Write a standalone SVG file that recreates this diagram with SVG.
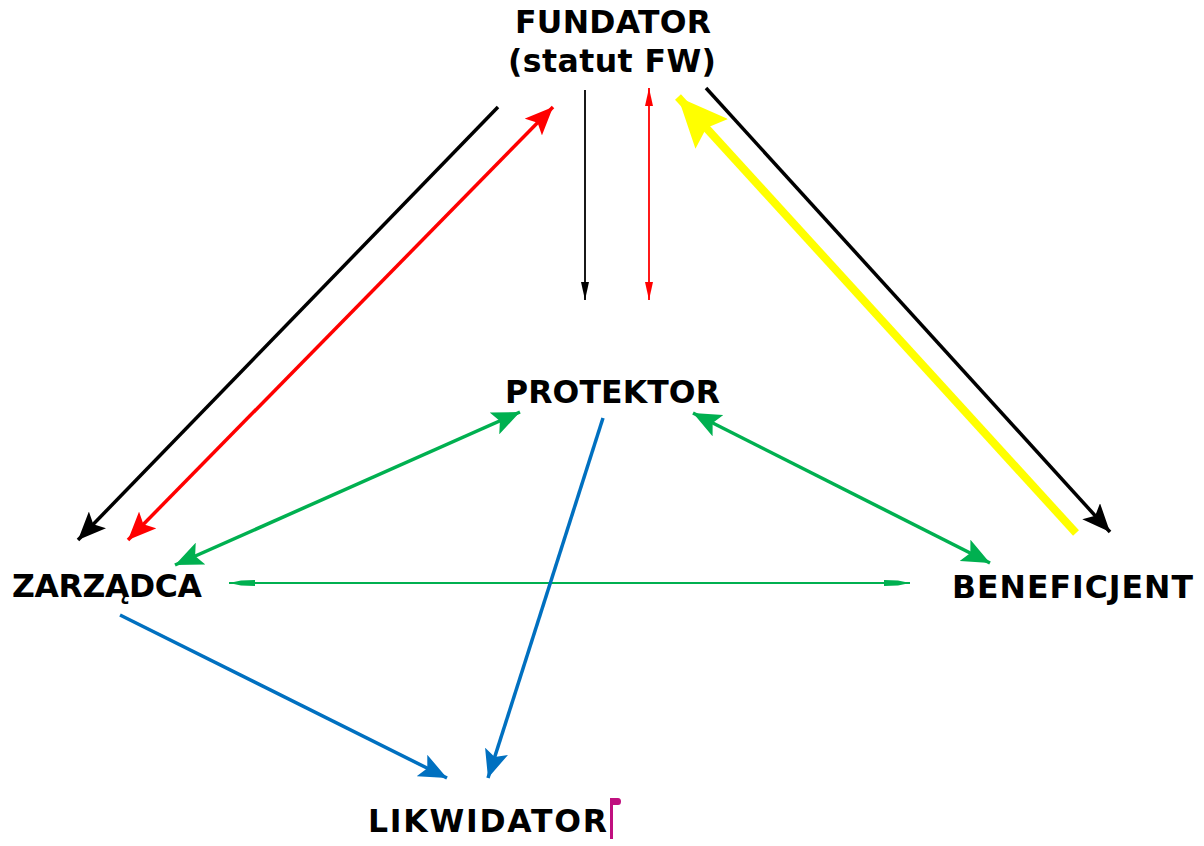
<svg xmlns="http://www.w3.org/2000/svg" width="1204" height="846" viewBox="0 0 1204 846">
<style>
.lbl{font-family:"DejaVu Sans","Verdana",sans-serif;font-weight:bold;font-size:31.5px;fill:#000}
.c{fill:none;stroke-linecap:butt}
</style>
<defs>
<marker id="hk" markerUnits="userSpaceOnUse" viewBox="0 0 28 24" refX="28" refY="12" markerWidth="28" markerHeight="24" orient="auto-start-reverse"><path d="M0,0 L28,12 L0,24 L6,12 Z" fill="#000"/></marker>
<marker id="hr" markerUnits="userSpaceOnUse" viewBox="0 0 28 24" refX="28" refY="12" markerWidth="28" markerHeight="24" orient="auto-start-reverse"><path d="M0,0 L28,12 L0,24 L6,12 Z" fill="#ff0000"/></marker>
<marker id="hg" markerUnits="userSpaceOnUse" viewBox="0 0 28 24" refX="28" refY="12" markerWidth="28" markerHeight="24" orient="auto-start-reverse"><path d="M0,0 L28,12 L0,24 L6,12 Z" fill="#00b050"/></marker>
<marker id="hb" markerUnits="userSpaceOnUse" viewBox="0 0 28 24" refX="28" refY="12" markerWidth="28" markerHeight="24" orient="auto-start-reverse"><path d="M0,0 L28,12 L0,24 L6,12 Z" fill="#0070c0"/></marker>
<marker id="hy" markerUnits="userSpaceOnUse" viewBox="0 0 50 44" refX="50" refY="22" markerWidth="50" markerHeight="44" orient="auto-start-reverse"><path d="M0,0 L50,22 L0,44 L8,22 Z" fill="#ffff00"/></marker>
<marker id="tk" markerUnits="userSpaceOnUse" viewBox="0 0 18 8" refX="18" refY="4" markerWidth="18" markerHeight="8" orient="auto-start-reverse"><path d="M0,0 L18,4 L0,8 Z" fill="#000"/></marker>
<marker id="tr" markerUnits="userSpaceOnUse" viewBox="0 0 18 8" refX="18" refY="4" markerWidth="18" markerHeight="8" orient="auto-start-reverse"><path d="M0,0 L18,4 L0,8 Z" fill="#ff0000"/></marker>
<marker id="tg" markerUnits="userSpaceOnUse" viewBox="0 0 26 6" refX="26" refY="3" markerWidth="26" markerHeight="6" orient="auto-start-reverse"><path d="M0,0 L14,0.5 L26,3 L14,5.5 L0,6 Z" fill="#00b050"/></marker>
</defs>
<g id="connectors">
<path class="c" d="M498,107 L78,540" stroke="#000" stroke-width="3.5" marker-end="url(#hk)"/>
<path class="c" d="M128,540 L553,107" stroke="#ff0000" stroke-width="3.5" marker-start="url(#hr)" marker-end="url(#hr)"/>
<path class="c" d="M585,90 L585,300" stroke="#000" stroke-width="1.8" marker-end="url(#tk)"/>
<path class="c" d="M649,88 L649,300" stroke="#ff0000" stroke-width="1.8" marker-start="url(#tr)" marker-end="url(#tr)"/>
<path class="c" d="M1076,533 L678,97" stroke="#ffff00" stroke-width="8" marker-end="url(#hy)"/>
<path class="c" d="M706,88 L1110,532" stroke="#000" stroke-width="3.5" marker-end="url(#hk)"/>
<path class="c" d="M520,412 L175,565" stroke="#00b050" stroke-width="3.5" marker-start="url(#hg)" marker-end="url(#hg)"/>
<path class="c" d="M693,413 L990,563" stroke="#00b050" stroke-width="3.5" marker-start="url(#hg)" marker-end="url(#hg)"/>
<path class="c" d="M229,583 L910,583" stroke="#00b050" stroke-width="1.8" marker-start="url(#tg)" marker-end="url(#tg)"/>
<path class="c" d="M120,615 L447,778" stroke="#0070c0" stroke-width="3.5" marker-end="url(#hb)"/>
<path class="c" d="M603,418 L488,778" stroke="#0070c0" stroke-width="3.5" marker-end="url(#hb)"/>
</g>
<g id="fundator">
<text class="lbl" x="515" y="33" textLength="196" lengthAdjust="spacing">FUNDATOR</text>
<text class="lbl" x="508" y="72" textLength="208" lengthAdjust="spacing">(statut FW)</text>
</g>
<g id="protektor"><text class="lbl" x="505" y="403" textLength="215" lengthAdjust="spacing">PROTEKTOR</text></g>
<g id="zarzadca"><text class="lbl" x="12" y="597" textLength="190" lengthAdjust="spacing">ZARZĄDCA</text></g>
<g id="beneficjent"><text class="lbl" x="952" y="598" textLength="241" lengthAdjust="spacing">BENEFICJENT</text></g>
<g id="likwidator">
<text class="lbl" x="368" y="832" textLength="239" lengthAdjust="spacing">LIKWIDATOR</text>
<path d="M611.5,798 L611.5,839" stroke="#c0107f" stroke-width="3" fill="none"/>
<path d="M610,798 L618,798 Q621,798 621,801.5 Q621,805 618,805 L612,805 Z" fill="#c0107f"/>
</g>
</svg>
